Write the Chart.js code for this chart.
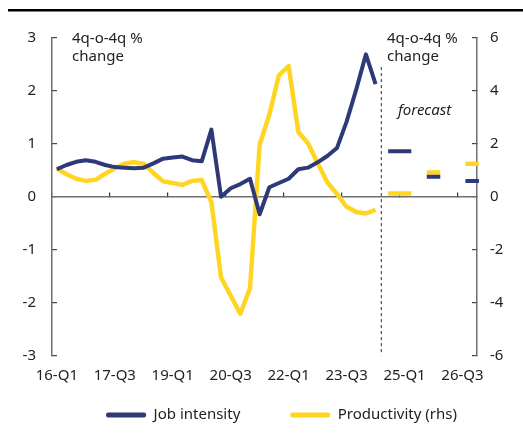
<!DOCTYPE html>
<html>
<head>
<meta charset="utf-8">
<script src="https://cdn.jsdelivr.net/npm/chart.js@4.4.1/dist/chart.umd.min.js"></script>
<style>
  html, body { margin: 0; padding: 0; background: #fff; }
  #wrap { width: 523px; height: 443px; position: relative; }
</style>
</head>
<body>
<div id="wrap"><canvas id="chart"></canvas></div>
<script>
// quarters 2016-Q1 .. 2026-Q4
const quarters = [
  '16-Q1','16-Q2','16-Q3','16-Q4','17-Q1','17-Q2','17-Q3','17-Q4',
  '18-Q1','18-Q2','18-Q3','18-Q4','19-Q1','19-Q2','19-Q3','19-Q4',
  '20-Q1','20-Q2','20-Q3','20-Q4','21-Q1','21-Q2','21-Q3','21-Q4',
  '22-Q1','22-Q2','22-Q3','22-Q4','23-Q1','23-Q2','23-Q3','23-Q4',
  '24-Q1','24-Q2','24-Q3','24-Q4','25-Q1','25-Q2','25-Q3','25-Q4',
  '26-Q1','26-Q2','26-Q3','26-Q4'
];
const shownQuarters = ['16-Q1','17-Q3','19-Q1','20-Q3','22-Q1','23-Q3','25-Q1','26-Q3'];

// history, 16-Q1 .. 24-Q2
const jobIntensity = [
  0.52, 0.60, 0.66, 0.69, 0.66, 0.60, 0.56, 0.55, 0.54, 0.55,
  0.63, 0.72, 0.74, 0.76, 0.69, 0.67, 1.27, 0.00, 0.16, 0.24,
  0.34, -0.33, 0.18, 0.26, 0.34, 0.52, 0.55, 0.65, 0.77, 0.92,
  1.42, 2.03, 2.69, 2.13
];
const productivity = [
  1.07, 0.85, 0.68, 0.60, 0.64, 0.87, 1.08, 1.25, 1.31, 1.24,
  0.90, 0.58, 0.52, 0.45, 0.60, 0.63, -0.20, -3.05, -3.74, -4.42,
  -3.45, 1.97, 3.10, 4.60, 4.94, 2.45, 2.02, 1.28, 0.55, 0.11,
  -0.38, -0.58, -0.63, -0.50
];

// forecast dashes, x counted in quarters from 16-Q1
const forecastFrom = [34.8, 38.8, 42.8];
const forecastTo = [37.2, 40.2, 44.2];
const jobForecast = [0.86, 0.38, 0.30];
const productivityForecast = [0.12, 0.92, 1.25];
const forecastSplitX = 34.1;
const forecastSplitTop = 2.45;

const leftTicks = [-3, -2, -1, 0, 1, 2, 3];
const rightTicks = [-6, -4, -2, 0, 2, 4, 6];

const navy = '#2E3977';
const yellow = '#FFD524';

function dashes(values) {
  const pts = [];
  values.forEach((v, i) => {
    pts.push({x: forecastFrom[i], y: v}, {x: forecastTo[i], y: v}, {x: forecastTo[i] + 0.1, y: null});
  });
  return pts;
}

Chart.defaults.font.family = '"Noto Sans", sans-serif';
Chart.defaults.font.size = 15;
Chart.defaults.color = '#222';

// text notes + rule at the top
const notes = {
  id: 'notes',
  afterLayout(chart) {
    // legend sits a bit right of the canvas centre in the original
    chart.legend.left += 20;
    chart.legend.right += 20;
    chart.legend.top += 2;
    chart.legend.bottom += 2;
  },
  afterDraw(chart) {
    const { ctx, chartArea: a } = chart;
    ctx.save();
    ctx.fillStyle = '#000';
    ctx.fillRect(8, 9, 515, 2.5);
    ctx.fillStyle = '#222';
    ctx.font = '15px "Noto Sans"';
    ['4q-o-4q %', 'change'].forEach((t, i) => {
      ctx.fillText(t, a.left + 20, a.top + 1 + i * 17.5);
      ctx.fillText(t, a.right - 90, a.top + 1 + i * 17.5);
    });
    ctx.font = 'italic 15px "Noto Sans"';
    ctx.fillText('forecast', a.right - 79, a.top + 72.5);
    ctx.restore();
  }
};

const ctx = document.getElementById('chart').getContext('2d');
new Chart(ctx, {
  type: 'line',
  data: {
    labels: quarters,
    datasets: [
      {
        label: 'Job intensity',
        data: jobIntensity,
        borderColor: navy,
        backgroundColor: navy,
        borderWidth: 4,
        xAxisID: 'x',
        yAxisID: 'y',
      },
      {
        label: 'Productivity (rhs)',
        data: productivity,
        borderColor: yellow,
        backgroundColor: yellow,
        borderWidth: 4.5,
        xAxisID: 'x',
        yAxisID: 'y1',
      },
      {
        label: 'Job intensity forecast',
        data: dashes(jobForecast),
        borderColor: navy,
        borderWidth: 4,
        clip: 5,
        xAxisID: 'xf',
        yAxisID: 'y',
      },
      {
        label: 'Productivity forecast',
        data: dashes(productivityForecast),
        borderColor: yellow,
        borderWidth: 4.5,
        clip: 5,
        xAxisID: 'xf',
        yAxisID: 'y1',
      },
      {
        label: 'split',
        data: [{x: forecastSplitX, y: forecastSplitTop}, {x: forecastSplitX, y: leftTicks[0]}],
        borderColor: '#555',
        borderWidth: 1.3,
        borderDash: [3, 3],
        xAxisID: 'xf',
        yAxisID: 'y',
      },
    ],
  },
  options: {
    responsive: true,
    maintainAspectRatio: false,
    animation: false,
    layout: { padding: { left: 0, right: 0, top: 38, bottom: 12.5 } },
    elements: {
      point: { radius: 0, hoverRadius: 0 },
      line: { tension: 0, borderJoinStyle: 'round', borderCapStyle: 'butt' },
    },
    plugins: {
      tooltip: { enabled: false },
      legend: {
        position: 'bottom',
        labels: {
          boxWidth: 40,
          boxHeight: 5,
          padding: 50,
          color: '#222',
          generateLabels: chart =>
            Chart.defaults.plugins.legend.labels.generateLabels(chart)
              .filter(item => item.datasetIndex < 2)
              .map(item => Object.assign(item, { lineWidth: 0, borderRadius: 2 })),
        },
      },
    },
    scales: {
      x: {
        type: 'category',
        position: 'bottom',
        offset: true,
        border: { display: false },
        grid: { display: false, drawTicks: false, offset: true },
        ticks: {
          autoSkip: false,
          maxRotation: 0,
          minRotation: 0,
          mirror: true,
          padding: -29,
          color: '#222',
          callback: function (value) {
            const lab = this.getLabelForValue(value);
            return shownQuarters.includes(lab) ? lab : '';
          },
        },
        afterFit: s => { s.height = 0; },
      },
      xz: {
        type: 'category',
        position: { y: 0 },
        offset: true,
        min: quarters[0],
        max: quarters[quarters.length - 1],
        border: { display: true, color: '#6f6f6f', width: 1.5 },
        grid: {
          drawOnChartArea: false,
          offset: true,
          tickLength: -5,
          lineWidth: 1.2,
          color: c => (c.index !== undefined && shownQuarters.includes(quarters[c.index])) ? '#333' : 'rgba(0,0,0,0)',
        },
        ticks: { display: false, autoSkip: false },
      },
      xf: {
        type: 'linear',
        display: false,
        min: 0,
        max: quarters.length,
      },
      y: {
        position: 'left',
        min: leftTicks[0],
        max: leftTicks[leftTicks.length - 1],
        afterBuildTicks: s => { s.ticks = leftTicks.map(v => ({ value: v })); },
        border: { display: true, color: '#6f6f6f', width: 1.5 },
        grid: { drawOnChartArea: false, tickLength: -5, color: '#444', lineWidth: 1.2 },
        ticks: { padding: 21, color: '#222' },
        afterFit: s => { s.width = 52; },
      },
      y1: {
        position: 'right',
        min: rightTicks[0],
        max: rightTicks[rightTicks.length - 1],
        afterBuildTicks: s => { s.ticks = rightTicks.map(v => ({ value: v })); },
        border: { display: true, color: '#6f6f6f', width: 1.5 },
        grid: { drawOnChartArea: false, tickLength: -5, color: '#444', lineWidth: 1.2 },
        ticks: { padding: 18, color: '#222' },
        afterFit: s => { s.width = 46; },
      },
    },
  },
  plugins: [notes],
});
</script>
</body>
</html>
